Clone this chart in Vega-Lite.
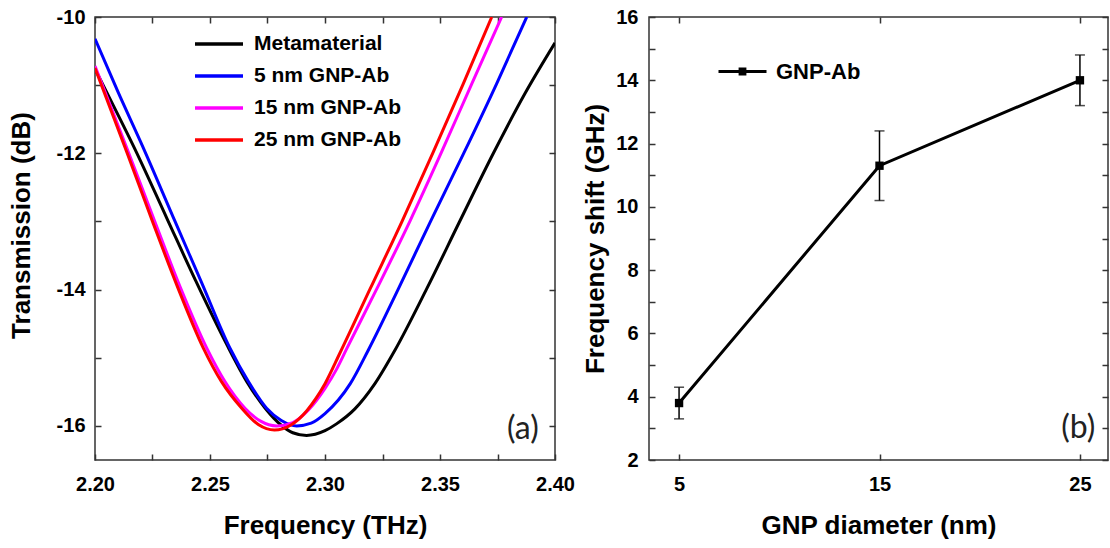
{
  "$schema": "https://vega.github.io/schema/vega-lite/v6.json",
  "background": "white",
  "padding": {"left": 7, "top": 6, "right": 2, "bottom": 4},
  "bounds": "flush",
  "spacing": 94,
  "config": {
    "view": {"stroke": "#333", "strokeWidth": 1.5},
    "axis": {
      "grid": false, "domain": false, "tickColor": "#333", "tickWidth": 1.5, "tickSize": -6,
      "labelFont": "Liberation Sans", "labelFontWeight": "bold", "labelFontSize": 20, "labelColor": "black",
      "titleFont": "Liberation Sans", "titleFontWeight": "bold", "titleFontSize": 26, "titleColor": "black",
      "labelFlush": false, "labelOverlap": false
    }
  },
  "resolve": {"scale": {"color": "independent"}, "legend": {"color": "independent"}},
  "hconcat": [
    {
      "width": 460,
      "height": 443,
      "layer": [
        {
          "data": {"values": [
            {"f": 2.200, "t": -10.76, "s": "Metamaterial"},
            {"f": 2.208, "t": -11.30, "s": "Metamaterial"},
            {"f": 2.2171, "t": -11.92, "s": "Metamaterial"},
            {"f": 2.2312, "t": -12.95, "s": "Metamaterial"},
            {"f": 2.2435, "t": -13.85, "s": "Metamaterial"},
            {"f": 2.2572, "t": -14.80, "s": "Metamaterial"},
            {"f": 2.266, "t": -15.35, "s": "Metamaterial"},
            {"f": 2.274, "t": -15.74, "s": "Metamaterial"},
            {"f": 2.281, "t": -15.99, "s": "Metamaterial"},
            {"f": 2.286, "t": -16.10, "s": "Metamaterial"},
            {"f": 2.292, "t": -16.14, "s": "Metamaterial"},
            {"f": 2.300, "t": -16.07, "s": "Metamaterial"},
            {"f": 2.305, "t": -15.97, "s": "Metamaterial"},
            {"f": 2.313, "t": -15.75, "s": "Metamaterial"},
            {"f": 2.3217, "t": -15.38, "s": "Metamaterial"},
            {"f": 2.3304, "t": -14.89, "s": "Metamaterial"},
            {"f": 2.3442, "t": -13.99, "s": "Metamaterial"},
            {"f": 2.3587, "t": -12.99, "s": "Metamaterial"},
            {"f": 2.3732, "t": -12.00, "s": "Metamaterial"},
            {"f": 2.387, "t": -11.12, "s": "Metamaterial"},
            {"f": 2.400, "t": -10.38, "s": "Metamaterial"},
            {"f": 2.200, "t": -10.32, "s": "5 nm GNP-Ab"},
            {"f": 2.210, "t": -11.10, "s": "5 nm GNP-Ab"},
            {"f": 2.221, "t": -11.92, "s": "5 nm GNP-Ab"},
            {"f": 2.2348, "t": -13.00, "s": "5 nm GNP-Ab"},
            {"f": 2.2464, "t": -13.90, "s": "5 nm GNP-Ab"},
            {"f": 2.2587, "t": -14.86, "s": "5 nm GNP-Ab"},
            {"f": 2.2667, "t": -15.35, "s": "5 nm GNP-Ab"},
            {"f": 2.2746, "t": -15.74, "s": "5 nm GNP-Ab"},
            {"f": 2.281, "t": -15.92, "s": "5 nm GNP-Ab"},
            {"f": 2.2877, "t": -16.00, "s": "5 nm GNP-Ab"},
            {"f": 2.294, "t": -15.96, "s": "5 nm GNP-Ab"},
            {"f": 2.300, "t": -15.82, "s": "5 nm GNP-Ab"},
            {"f": 2.311, "t": -15.38, "s": "5 nm GNP-Ab"},
            {"f": 2.3188, "t": -14.89, "s": "5 nm GNP-Ab"},
            {"f": 2.3319, "t": -13.99, "s": "5 nm GNP-Ab"},
            {"f": 2.346, "t": -12.99, "s": "5 nm GNP-Ab"},
            {"f": 2.3606, "t": -11.98, "s": "5 nm GNP-Ab"},
            {"f": 2.3746, "t": -10.98, "s": "5 nm GNP-Ab"},
            {"f": 2.3877, "t": -10.00, "s": "5 nm GNP-Ab"},
            {"f": 2.200, "t": -10.72, "s": "15 nm GNP-Ab"},
            {"f": 2.2145, "t": -11.98, "s": "15 nm GNP-Ab"},
            {"f": 2.226, "t": -13.00, "s": "15 nm GNP-Ab"},
            {"f": 2.237, "t": -13.96, "s": "15 nm GNP-Ab"},
            {"f": 2.2486, "t": -14.86, "s": "15 nm GNP-Ab"},
            {"f": 2.2565, "t": -15.35, "s": "15 nm GNP-Ab"},
            {"f": 2.2652, "t": -15.74, "s": "15 nm GNP-Ab"},
            {"f": 2.272, "t": -15.93, "s": "15 nm GNP-Ab"},
            {"f": 2.279, "t": -16.00, "s": "15 nm GNP-Ab"},
            {"f": 2.286, "t": -15.95, "s": "15 nm GNP-Ab"},
            {"f": 2.293, "t": -15.76, "s": "15 nm GNP-Ab"},
            {"f": 2.300, "t": -15.45, "s": "15 nm GNP-Ab"},
            {"f": 2.305, "t": -15.17, "s": "15 nm GNP-Ab"},
            {"f": 2.3094, "t": -14.87, "s": "15 nm GNP-Ab"},
            {"f": 2.3225, "t": -13.99, "s": "15 nm GNP-Ab"},
            {"f": 2.337, "t": -12.99, "s": "15 nm GNP-Ab"},
            {"f": 2.3507, "t": -11.98, "s": "15 nm GNP-Ab"},
            {"f": 2.3638, "t": -10.98, "s": "15 nm GNP-Ab"},
            {"f": 2.3768, "t": -10.00, "s": "15 nm GNP-Ab"},
            {"f": 2.200, "t": -10.75, "s": "25 nm GNP-Ab"},
            {"f": 2.2138, "t": -11.98, "s": "25 nm GNP-Ab"},
            {"f": 2.225, "t": -13.00, "s": "25 nm GNP-Ab"},
            {"f": 2.236, "t": -13.97, "s": "25 nm GNP-Ab"},
            {"f": 2.247, "t": -14.85, "s": "25 nm GNP-Ab"},
            {"f": 2.255, "t": -15.35, "s": "25 nm GNP-Ab"},
            {"f": 2.2638, "t": -15.74, "s": "25 nm GNP-Ab"},
            {"f": 2.271, "t": -15.98, "s": "25 nm GNP-Ab"},
            {"f": 2.278, "t": -16.06, "s": "25 nm GNP-Ab"},
            {"f": 2.285, "t": -15.99, "s": "25 nm GNP-Ab"},
            {"f": 2.292, "t": -15.78, "s": "25 nm GNP-Ab"},
            {"f": 2.296, "t": -15.60, "s": "25 nm GNP-Ab"},
            {"f": 2.300, "t": -15.38, "s": "25 nm GNP-Ab"},
            {"f": 2.3065, "t": -14.93, "s": "25 nm GNP-Ab"},
            {"f": 2.3196, "t": -13.99, "s": "25 nm GNP-Ab"},
            {"f": 2.3336, "t": -12.99, "s": "25 nm GNP-Ab"},
            {"f": 2.3471, "t": -11.98, "s": "25 nm GNP-Ab"},
            {"f": 2.3601, "t": -10.98, "s": "25 nm GNP-Ab"},
            {"f": 2.3725, "t": -10.00, "s": "25 nm GNP-Ab"}
          ]},
          "mark": {"type": "line", "strokeWidth": 3, "interpolate": "monotone", "clip": true},
          "encoding": {
            "x": {"field": "f", "type": "quantitative",
              "scale": {"domain": [2.2, 2.4], "nice": false, "zero": false},
              "axis": {"title": "Frequency (THz)", "orient": "bottom",
                "values": [2.2, 2.225, 2.25, 2.275, 2.3, 2.325, 2.35, 2.375, 2.4],
                "labelExpr": "round(datum.value*1000) % 50 == 0 ? format(datum.value, '.2f') : ''",
                "labelPadding": 20, "titlePadding": 18}},
            "y": {"field": "t", "type": "quantitative",
              "scale": {"domain": [-16.5, -10], "nice": false, "zero": false},
              "axis": {"title": "Transmission (dB)", "orient": "left",
                "values": [-16, -15, -14, -13, -12, -11, -10],
                "labelExpr": "datum.value % 2 == 0 ? '' + datum.value : ''",
                "labelPadding": 16, "titlePadding": 22, "titleY": 208}},
            "color": {"field": "s", "type": "nominal",
              "scale": {"domain": ["Metamaterial", "5 nm GNP-Ab", "15 nm GNP-Ab", "25 nm GNP-Ab"],
                        "range": ["#000000", "#0000ff", "#ff00ff", "#ff0000"]},
              "legend": {"orient": "none", "legendX": 110, "legendY": 13, "title": null, "padding": 0,
                "symbolType": "M-2,0H2", "symbolSize": 576, "symbolStrokeWidth": 3.5,
                "labelFont": "Liberation Sans", "labelFontWeight": "bold", "labelFontSize": 21,
                "labelColor": "black", "rowPadding": 8, "labelOffset": 21, "labelLimit": 400}}
          }
        },
        {
          "data": {"values": [{"f": 2.386, "t": -16.04, "lab": "(a)"}]},
          "mark": {"type": "text", "font": "Lato", "fontSize": 32, "color": "#222", "align": "center", "baseline": "middle"},
          "encoding": {
            "x": {"field": "f", "type": "quantitative",
              "scale": {"domain": [2.2, 2.4], "nice": false, "zero": false},
              "axis": {"orient": "top", "labels": false, "title": null,
                "values": [2.2, 2.225, 2.25, 2.275, 2.3, 2.325, 2.35, 2.375, 2.4]}},
            "y": {"field": "t", "type": "quantitative",
              "scale": {"domain": [-16.5, -10], "nice": false, "zero": false},
              "axis": {"orient": "right", "labels": false, "title": null,
                "values": [-16, -15, -14, -13, -12, -11, -10]}},
            "text": {"field": "lab"}
          }
        }
      ],
      "resolve": {"axis": {"x": "independent", "y": "independent"}}
    },
    {
      "width": 459,
      "height": 443,
      "data": {"values": [
        {"d": 5, "v": 3.8, "lo": 3.3, "hi": 4.3, "s": "GNP-Ab"},
        {"d": 15, "v": 11.3, "lo": 10.2, "hi": 12.4, "s": "GNP-Ab"},
        {"d": 25, "v": 14.0, "lo": 13.2, "hi": 14.8, "s": "GNP-Ab"}
      ]},
      "layer": [
        {
          "mark": {"type": "rule", "strokeWidth": 1.5, "color": "black"},
          "encoding": {
            "x": {"field": "d", "type": "quantitative",
              "scale": {"domain": [3.5, 26.4], "nice": false, "zero": false},
              "axis": {"title": "GNP diameter (nm)", "orient": "bottom", "values": [5, 15, 25],
                "labelPadding": 20, "titlePadding": 18}},
            "y": {"field": "lo", "type": "quantitative",
              "scale": {"domain": [2, 16], "nice": false, "zero": false},
              "axis": {"title": "Frequency shift (GHz)", "orient": "left",
                "values": [2, 3, 4, 5, 6, 7, 8, 9, 10, 11, 12, 13, 14, 15, 16],
                "labelExpr": "datum.value % 2 == 0 ? '' + datum.value : ''",
                "labelPadding": 17, "titlePadding": 7}},
            "y2": {"field": "hi"}
          }
        },
        {
          "mark": {"type": "tick", "orient": "horizontal", "size": 10, "thickness": 1.5, "color": "black"},
          "encoding": {
            "x": {"field": "d", "type": "quantitative", "scale": {"domain": [3.5, 26.4], "nice": false, "zero": false}, "axis": null},
            "y": {"field": "lo", "type": "quantitative", "scale": {"domain": [2, 16], "nice": false, "zero": false}, "axis": null}
          }
        },
        {
          "mark": {"type": "tick", "orient": "horizontal", "size": 10, "thickness": 1.5, "color": "black"},
          "encoding": {
            "x": {"field": "d", "type": "quantitative", "scale": {"domain": [3.5, 26.4], "nice": false, "zero": false}, "axis": null},
            "y": {"field": "hi", "type": "quantitative", "scale": {"domain": [2, 16], "nice": false, "zero": false}, "axis": null}
          }
        },
        {
          "mark": {"type": "line", "strokeWidth": 3, "point": {"shape": "square", "size": 70, "filled": true}},
          "encoding": {
            "x": {"field": "d", "type": "quantitative", "scale": {"domain": [3.5, 26.4], "nice": false, "zero": false}, "axis": null},
            "y": {"field": "v", "type": "quantitative", "scale": {"domain": [2, 16], "nice": false, "zero": false}, "axis": null},
            "color": {"field": "s", "type": "nominal", "scale": {"domain": ["GNP-Ab"], "range": ["#000000"]},
              "legend": {"orient": "none", "legendX": 80, "legendY": 41, "title": null, "padding": 0,
                "symbolType": "M-2,0H2M-0.2,-0.2H0.2V0.2H-0.2Z", "symbolSize": 576, "symbolStrokeWidth": 3,
                "symbolFillColor": "#000000", "symbolStrokeColor": "#000000",
                "labelFont": "Liberation Sans", "labelFontWeight": "bold", "labelFontSize": 22,
                "labelColor": "black", "labelOffset": 20, "labelLimit": 400}}
          }
        },
        {
          "data": {"values": [{"d": 24.92, "v": 3.0, "lab": "(b)"}]},
          "mark": {"type": "text", "font": "Lato", "fontSize": 32, "color": "#222", "align": "center", "baseline": "middle"},
          "encoding": {
            "x": {"field": "d", "type": "quantitative",
              "scale": {"domain": [3.5, 26.4], "nice": false, "zero": false},
              "axis": {"orient": "top", "labels": false, "title": null, "values": [5, 15, 25]}},
            "y": {"field": "v", "type": "quantitative",
              "scale": {"domain": [2, 16], "nice": false, "zero": false},
              "axis": {"orient": "right", "labels": false, "title": null,
                "values": [2, 3, 4, 5, 6, 7, 8, 9, 10, 11, 12, 13, 14, 15, 16]}},
            "text": {"field": "lab"}
          }
        }
      ],
      "resolve": {"axis": {"x": "independent", "y": "independent"}}
    }
  ]
}
